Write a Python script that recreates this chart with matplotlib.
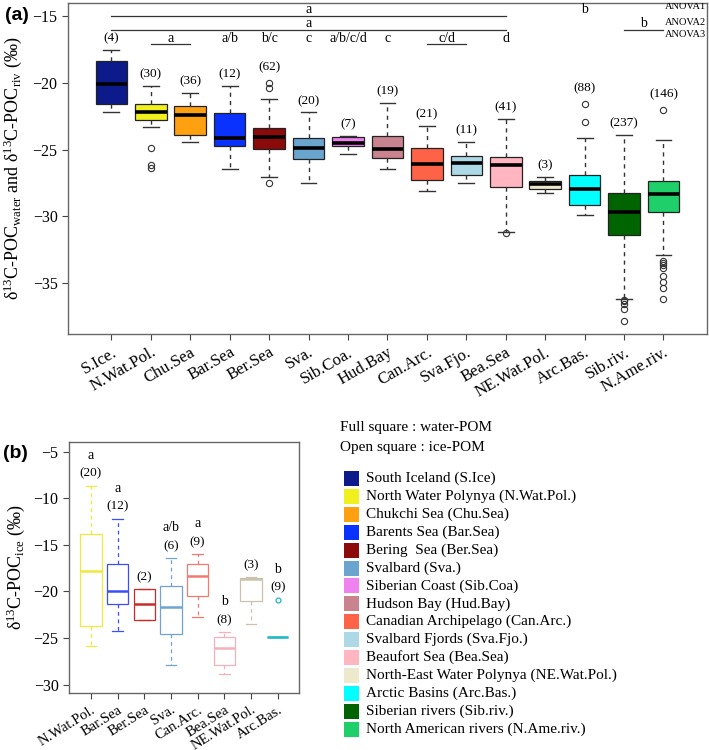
import numpy as np
import matplotlib.pyplot as plt
from matplotlib.patches import Rectangle

plt.rcParams['font.family'] = ['Liberation Serif', 'DejaVu Serif']
plt.rcParams['mathtext.fontset'] = 'custom'
plt.rcParams['mathtext.rm'] = 'Liberation Serif'
plt.rcParams['mathtext.it'] = 'Liberation Serif:italic'

# ---- panel (a): water / river POC ----
sites_a = ['S.Ice.', 'N.Wat.Pol.', 'Chu.Sea', 'Bar.Sea', 'Ber.Sea', 'Sva.', 'Sib.Coa.',
           'Hud.Bay', 'Can.Arc.', 'Sva.Fjo.', 'Bea.Sea', 'NE.Wat.Pol.', 'Arc.Bas.',
           'Sib.riv.', 'N.Ame.riv.']
n_a = [4, 30, 36, 12, 62, 20, 7, 19, 21, 11, 41, 3, 88, 237, 146]
whishi_a = [-17.5, -20.2, -20.75, -20.2, -21.2, -22.2, -23.95, -21.5, -23.2, -24.4, -22.7, -27.05, -24.15, -23.9, -24.25]
q3_a = [-18.35, -21.6, -21.75, -22.25, -23.4, -24.1, -24.05, -24.0, -24.85, -25.5, -25.6, -27.4, -26.95, -28.25, -27.4]
med_a = [-20.1, -22.2, -22.4, -24.1, -24.05, -24.85, -24.5, -24.95, -26.1, -26.0, -26.15, -27.6, -27.95, -29.7, -28.35]
q1_a = [-21.6, -22.8, -23.9, -24.75, -24.95, -25.7, -24.75, -25.65, -27.3, -26.9, -27.85, -27.95, -29.15, -31.45, -29.7]
whislo_a = [-22.2, -23.3, -24.4, -26.5, -27.1, -27.5, -25.3, -26.45, -28.1, -27.55, -31.2, -28.25, -29.9, -36.2, -32.9]
fliers_a = [[], [-24.9, -26.2, -26.4], [], [], [-20.0, -20.4, -27.5], [], [], [], [], [],
            [-31.3], [], [-21.6, -22.9],
            [-36.3, -36.4, -36.6, -37.0, -37.9],
            [-22.05, -33.35, -33.55, -33.7, -33.9, -34.5, -34.95, -35.4, -36.2]]
colors_a = ['#0c1a8c', '#f0f01e', '#ffa010', '#0a32ff', '#8b0a0a', '#6aa5d0', '#ee82ee',
            '#c8838f', '#ff6347', '#add8e6', '#ffb6c1', '#eee8cd', '#00ffff', '#006400', '#1ecf6a']

# significance letters: (first box, last box, letter)
anova1 = [(1, 11, 'a'), (13, 13, 'b')]
anova2 = [(1, 11, 'a'), (14, 15, 'b')]
anova3 = [(2, 3, 'a'), (4, 4, 'a/b'), (5, 5, 'b/c'), (6, 6, 'c'), (7, 7, 'a/b/c/d'),
          (8, 8, 'c'), (9, 10, 'c/d'), (11, 11, 'd')]

# ---- panel (b): ice POC ----
sites_b = ['N.Wat.Pol.', 'Bar.Sea', 'Ber.Sea', 'Sva.', 'Can.Arc.', 'Bea.Sea', 'NE.Wat.Pol.', 'Arc.Bas.']
n_b = [20, 12, 2, 6, 9, 8, 3, 9]
letters_b = ['a', 'a', '', 'a/b', 'a', 'b', '', 'b']
whishi_b = [-8.65, -12.2, -19.75, -16.4, -16.0, -24.35, -18.45, -24.85]
q3_b = [-13.85, -17.1, -19.75, -19.4, -17.1, -24.85, -18.6, -24.85]
med_b = [-17.85, -19.9, -21.4, -21.7, -18.3, -26.1, -18.65, -24.85]
q1_b = [-23.7, -21.3, -23.05, -24.55, -20.5, -27.95, -21.0, -24.85]
whislo_b = [-25.9, -24.25, -23.05, -27.95, -22.7, -28.9, -23.45, -24.85]
fliers_b = [[], [], [], [], [], [], [], [-20.9]]
colors_b = ['#f0e83a', '#3d4ef5', '#c92a2a', '#6fa3d2', '#f27b70', '#f5b0bc', '#cbc2ae', '#1fb8c4']

legend_names = ['South Iceland (S.Ice)', 'North Water Polynya (N.Wat.Pol.)', 'Chukchi Sea (Chu.Sea)',
                'Barents Sea (Bar.Sea)', 'Bering  Sea (Ber.Sea)', 'Svalbard (Sva.)',
                'Siberian Coast (Sib.Coa)', 'Hudson Bay (Hud.Bay)', 'Canadian Archipelago (Can.Arc.)',
                'Svalbard Fjords (Sva.Fjo.)', 'Beaufort Sea (Bea.Sea)',
                'North-East Water Polynya (NE.Wat.Pol.)', 'Arctic Basins (Arc.Bas.)',
                'Siberian rivers (Sib.riv.)', 'North American rivers (N.Ame.riv.)']


def make_stats(med, q1, q3, lo, hi, fl):
    return [dict(med=med[i], q1=q1[i], q3=q3[i], whislo=lo[i], whishi=hi[i], fliers=fl[i])
            for i in range(len(med))]


fig = plt.figure(figsize=(7.09, 7.5), dpi=100)
axa = fig.add_axes([0.0959, 0.5547, 0.9011, 0.4413])
axb = fig.add_axes([0.0973, 0.0764, 0.3244, 0.3346])

# panel a boxes
pos_a = np.arange(1, len(sites_a) + 1)
bp = axa.bxp(make_stats(med_a, q1_a, q3_a, whislo_a, whishi_a, fliers_a), positions=pos_a,
             widths=0.8, capwidths=0.4, patch_artist=True,
             boxprops=dict(edgecolor='#222222', linewidth=0.9),
             medianprops=dict(color='black', linewidth=2.6),
             whiskerprops=dict(color='#333333', linewidth=1.0, linestyle=(0, (3, 3))),
             capprops=dict(color='#333333', linewidth=1.0),
             flierprops=dict(marker='o', mfc='none', mec='#333333', ms=4.5, mew=0.8))
for patch, c in zip(bp['boxes'], colors_a):
    patch.set_facecolor(c)

axa.set_xlim(-0.1, 16.1)
axa.set_ylim(-38.85, -14.0)
axa.set_yticks([-15, -20, -25, -30, -35])
axa.set_yticklabels(['\u221215', '\u221220', '\u221225', '\u221230', '\u221235'])
axa.set_xticks(pos_a)
axa.set_xticklabels(sites_a, rotation=30, ha='right', rotation_mode='anchor', fontsize=12)
axa.set_ylabel('δ$^{13}$C-POC$_{\\mathrm{water}}$ and δ$^{13}$C-POC$_{\\mathrm{riv}}$ (‰)',
               fontsize=13, labelpad=6)

# sample sizes
for p, n, hi, fl in zip(pos_a, n_a, whishi_a, fliers_a):
    top = max([hi] + fl)
    off = 1.2 if top > hi else 0.85
    axa.text(p, top + off, '(%d)' % n, ha='center', va='center', fontsize=9.5)


def draw_groups(ax, groups, line_y, text_y):
    for first, last, lab in groups:
        if first != last:
            ax.plot([first, last], [line_y, line_y], color='#333333', lw=0.9)
        ax.text((first + last) / 2, text_y, lab, ha='center', va='center', fontsize=10)


draw_groups(axa, anova1, -15.0, -14.5)
draw_groups(axa, anova2, -16.0, -15.55)
draw_groups(axa, anova3, -17.05, -16.65)

for lab, y in zip(['ANOVA1', 'ANOVA2', 'ANOVA3'], [-14.25, -15.45, -16.4]):
    axa.text(15.55, y, lab, ha='center', va='center', fontsize=7.5, clip_on=True)

# panel b boxes
pos_b = np.arange(1, len(sites_b) + 1)
bpb = axb.bxp(make_stats(med_b, q1_b, q3_b, whislo_b, whishi_b, fliers_b), positions=pos_b,
              widths=0.8, capwidths=0.4, patch_artist=True,
              boxprops=dict(facecolor='none', linewidth=0.9),
              medianprops=dict(linewidth=1.8),
              whiskerprops=dict(linewidth=0.9, linestyle=(0, (3, 3))),
              capprops=dict(linewidth=0.9),
              flierprops=dict(marker='o', mfc='none', ms=3.5, mew=0.9))
for i, c in enumerate(colors_b):
    bpb['boxes'][i].set_edgecolor(c)
    bpb['medians'][i].set_color(c)
    bpb['whiskers'][2 * i].set_color(c)
    bpb['whiskers'][2 * i + 1].set_color(c)
    bpb['caps'][2 * i].set_color(c)
    bpb['caps'][2 * i + 1].set_color(c)
    bpb['fliers'][i].set_markeredgecolor(c)

for p, n, lab, hi, fl in zip(pos_b, n_b, letters_b, whishi_b, fliers_b):
    top = max([hi] + fl)
    axb.text(p, top + 1.3, '(%d)' % n, ha='center', va='center', fontsize=9.5)
    if lab:
        axb.text(p, top + 3.25, lab, ha='center', va='center', fontsize=10)

axb.set_xlim(0.18, 8.8)
axb.set_ylim(-30.87, -3.93)
axb.set_yticks([-5, -10, -15, -20, -25, -30])
axb.set_yticklabels(['\u22125', '\u221210', '\u221215', '\u221220', '\u221225', '\u221230'])
axb.set_xticks(pos_b)
axb.set_xticklabels(sites_b, rotation=32, ha='right', rotation_mode='anchor', fontsize=10.5)
axb.set_ylabel('δ$^{13}$C-POC$_{\\mathrm{ice}}$ (‰)', fontsize=13, labelpad=5)

for ax in (axa, axb):
    for s in ax.spines.values():
        s.set_color('#666666')
        s.set_linewidth(1.0)
    ax.tick_params(direction='out', length=4, width=0.8, color='#444444')
    ax.tick_params(axis='y', labelsize=11.5)

fig.text(0.007, 0.979, '(a)', fontsize=14, fontweight='bold', family='Liberation Sans', va='center')
fig.text(0.004, 0.396, '(b)', fontsize=14, fontweight='bold', family='Liberation Sans', va='center')

# legend block
fig.text(340 / 709, 1 - 428 / 750, 'Full square : water-POM', fontsize=11, va='center')
fig.text(340 / 709, 1 - 447 / 750, 'Open square : ice-POM', fontsize=11, va='center')
for i, (name, c) in enumerate(zip(legend_names, colors_a)):
    yc = 1 - (478.5 + 17.9 * i) / 750
    fig.patches.append(Rectangle((344 / 709, yc - 7.5 / 750), 15 / 709, 15 / 750,
                                 transform=fig.transFigure, facecolor=c, edgecolor='none'))
    fig.text(365.5 / 709, yc, name, fontsize=11, va='center')

fig.savefig('out.png', dpi=100)
